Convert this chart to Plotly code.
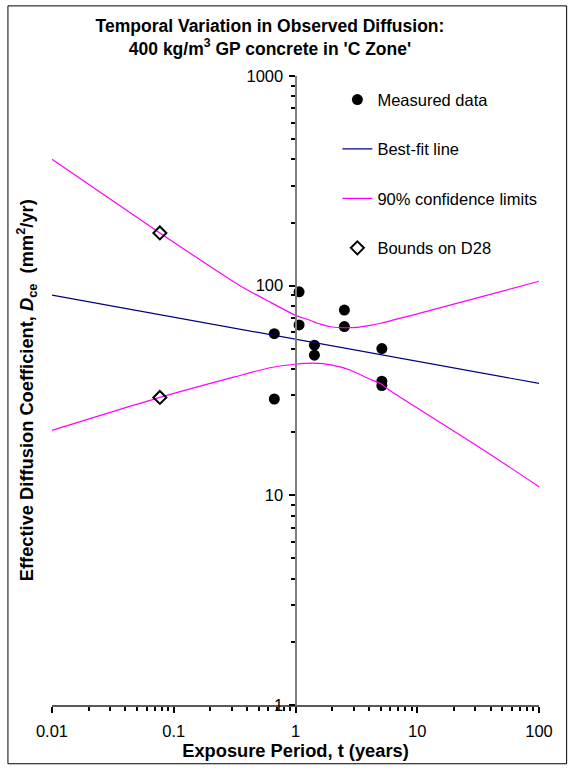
import plotly.graph_objects as go

# Exposure period (years) and measured effective diffusion coefficient (mm^2/yr)
t_meas = [0.67, 0.67, 1.07, 1.07, 1.43, 1.43, 2.52, 2.52, 5.12, 5.12, 5.12]
d_meas = [59.0, 28.8, 93.5, 65.0, 52.0, 46.6, 76.5, 63.8, 50.1, 35.0, 33.4]

# Best-fit power-law line
t_fit = [0.01, 100]
d_fit = [90.2, 34.2]

# 90% confidence limits
t_upper = [0.01, 0.0769, 0.35, 0.63, 1.0, 1.26, 1.6, 2.0, 2.5, 3.2, 4.0, 5.0, 10, 31.6, 100]
d_upper = [401, 178.4, 100, 83, 72.2, 69, 65.5, 63.5, 63, 63.3, 64.5, 66.2, 73.4, 87.7, 105]
t_lower = [0.01, 0.0769, 0.316, 0.63, 1.0, 1.4, 2.0, 2.8, 4.0, 5.1, 6.0, 10, 31.6, 100]
d_lower = [20.4, 29.3, 36.7, 40.7, 42.2, 42.7, 41.8, 39.6, 36.0, 33.9, 31.5, 26.1, 17.1, 11.0]

# Bounds on the 28-day diffusion coefficient
t_d28 = [0.0769, 0.0769]
d_d28 = [178.4, 29.3]

# Axis tick labels
x_ticks = [0.01, 0.1, 1, 10, 100]
x_ticktext = ["0.01", "0.1", "1", "10", "100"]
y_ticks = [1, 10, 100, 1000]
y_ticktext = ["1", "10", "100", "1000"]

FONT = "Arial, Liberation Sans, sans-serif"
TICK_COLOR = "#000000"


def minor_positions(decades):
    # 2..9 times each power of ten
    return [m * 10 ** d for d in decades for m in range(2, 10)]


fig = go.Figure()

fig.add_trace(go.Scatter(
    x=t_meas, y=d_meas, mode="markers", name="Measured data",
    marker=dict(symbol="circle", size=11, color="black"),
    legendgroup="a",
))
fig.add_trace(go.Scatter(
    x=t_fit, y=d_fit, mode="lines", name="Best-fit line",
    line=dict(color="#000080", width=1.2),
    legendgroup="b",
))
fig.add_trace(go.Scatter(
    x=t_upper, y=d_upper, mode="lines", name="90% confidence limits",
    line=dict(color="#FF00FF", width=1.2, shape="spline", smoothing=0.6),
    legendgroup="c",
))
fig.add_trace(go.Scatter(
    x=t_lower, y=d_lower, mode="lines", name="90% confidence limits",
    line=dict(color="#FF00FF", width=1.2, shape="spline", smoothing=0.6),
    legendgroup="c", showlegend=False,
))
fig.add_trace(go.Scatter(
    x=t_d28, y=d_d28, mode="markers", name="Bounds on D28",
    marker=dict(symbol="diamond-open", size=10, color="black",
                line=dict(width=2, color="black")),
    legendgroup="d",
))

fig.update_layout(
    width=572, height=769,
    margin=dict(l=52, r=33, t=76, b=62),
    paper_bgcolor="white", plot_bgcolor="white",
    font=dict(family=FONT, size=16.5, color="black"),
    title=dict(
        text="<b>Temporal Variation in Observed Diffusion:<br>"
             "400 kg/m<sup>3</sup> GP concrete in 'C Zone'</b>",
        x=0.472, xref="container", xanchor="center",
        y=1 - 32 / 769, yref="container", yanchor="top",
        font=dict(size=17.5, family=FONT, color="black"),
    ),
    showlegend=True,
    legend=dict(
        x=0.586, y=0.99, xanchor="left", yanchor="top",
        font=dict(size=16.5, family=FONT),
        tracegroupgap=25, bgcolor="rgba(0,0,0,0)",
        itemsizing="trace",
    ),
    xaxis=dict(
        type="log", range=[-2, 2],
        tickmode="array", tickvals=x_ticks, ticktext=x_ticktext,
        ticks="outside", ticklen=6, tickwidth=1.5, tickcolor=TICK_COLOR,
        minor=dict(tickmode="array", tickvals=minor_positions([-2, -1, 0, 1]),
                   ticks="outside", ticklen=4, tickwidth=1.5, tickcolor=TICK_COLOR),
        showline=True, linecolor="#595959", linewidth=1.5,
        showgrid=False, zeroline=False,
        ticklabelstandoff=4,
        tickfont=dict(size=16.5),
        title=dict(text="<b>Exposure Period, t (years)</b>",
                   font=dict(size=18.3), standoff=5),
    ),
    yaxis=dict(
        type="log", range=[0, 3],
        tickmode="array", tickvals=y_ticks, ticktext=y_ticktext,
        anchor="free", position=0.5,
        ticks="outside", ticklen=6, tickwidth=1.5, tickcolor=TICK_COLOR,
        minor=dict(tickmode="array", tickvals=minor_positions([0, 1, 2]),
                   ticks="outside", ticklen=4, tickwidth=1.5, tickcolor=TICK_COLOR),
        showline=True, linecolor="#7f7f7f", linewidth=2,
        showgrid=False, zeroline=False,
        ticklabelstandoff=2,
        tickfont=dict(size=16.5),
    ),
)

# Vertical axis title placed at the left edge of the chart
fig.add_annotation(
    text="<b>Effective Diffusion Coefficient, <i>D</i><sub>ce</sub>  (mm<sup>2</sup>/yr)</b>",
    xref="paper", yref="paper", x=-0.052, y=0.5,
    xanchor="center", yanchor="middle", textangle=-90,
    showarrow=False, font=dict(size=18.3, family=FONT, color="black"),
)

# Outer frame of the chart
fig.add_shape(
    type="rect", xref="paper", yref="paper",
    x0=(8 - 52) / 486.4, x1=(566 - 52) / 486.4,
    y0=(707 - 766) / 631.6, y1=(707 - 5) / 631.6,
    line=dict(color="black", width=1), fillcolor="rgba(0,0,0,0)",
    layer="below",
)

fig.write_html("out.html")
